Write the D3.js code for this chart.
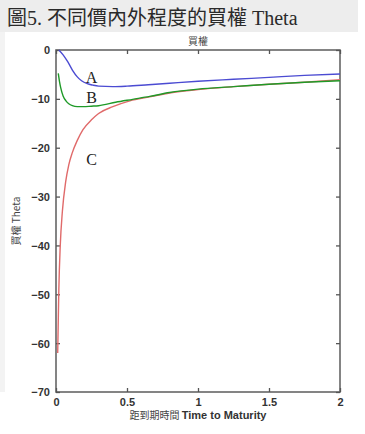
<!DOCTYPE html>
<html>
<head>
<meta charset="utf-8">
<script src="https://cdn.jsdelivr.net/npm/d3@7"></script>
<style>
  body { margin: 0; background: #fff; }
  svg { display: block; }
</style>
</head>
<body>
<div id="chart"></div>
<script>
// values: time to maturity (years) and call theta
const seriesA_t = [0.02, 0.05, 0.08, 0.1, 0.12, 0.15, 0.18, 0.22, 0.26, 0.3, 0.4, 0.5, 0.65, 0.8, 1.0, 1.25, 1.5, 1.75, 2.0];
const seriesA_v = [0, -1.0, -2.3, -3.3, -4.3, -5.5, -6.3, -6.9, -7.2, -7.4, -7.5, -7.4, -7.1, -6.8, -6.4, -6.0, -5.6, -5.2, -4.9];

const seriesB_t = [0.016, 0.025, 0.033, 0.05, 0.07, 0.09, 0.115, 0.15, 0.19, 0.25, 0.3, 0.42, 0.54, 0.66, 0.8, 1.0, 1.25, 1.5, 1.75, 2.0];
const seriesB_v = [-4.8, -6.5, -7.7, -9.4, -10.4, -11.0, -11.4, -11.6, -11.6, -11.5, -11.4, -10.7, -10.1, -9.5, -8.7, -8.0, -7.5, -7.0, -6.6, -6.3];

const seriesC_t = [0.012, 0.015, 0.02, 0.03, 0.045, 0.068, 0.09, 0.115, 0.15, 0.19, 0.25, 0.3, 0.4, 0.52, 0.66, 0.8, 1.0, 1.25, 1.5, 1.75, 2.0];
const seriesC_v = [-62, -57, -49, -40, -33, -27, -23.5, -21, -18.5, -16.3, -14.3, -13, -11.6, -10.4, -9.6, -8.8, -8.1, -7.5, -7.0, -6.6, -6.1];

const seriesNames = ["A", "B", "C"];
const seriesColors = ["#4b4bd2", "#1f9a28", "#e06a6a"];
const xTicks = [0, 0.5, 1, 1.5, 2];
const xTickLabels = ["0", "0.5", "1", "1.5", "2"];
const yTicks = [0, -10, -20, -30, -40, -50, -60, -70];

const titleText = "圖5. 不同價內外程度的買權 Theta";
const plotTitle = "買權";
const yLabel = "買權 Theta";
const xLabelZh = "距到期時間";
const xLabelEn = "Time to Maturity";

const W = 365, H = 434;
const margin = {top: 50, right: 25, bottom: 42, left: 56};

const svg = d3.select("#chart").append("svg")
  .attr("width", W).attr("height", H);

// gray header band + faint left strip
svg.append("rect").attr("x", 0).attr("y", 0).attr("width", 358).attr("height", 32).attr("fill", "#ededed");
svg.append("rect").attr("x", 0).attr("y", 32).attr("width", 5).attr("height", 360).attr("fill", "#f3f3f3");

svg.append("text")
  .attr("x", 7).attr("y", 25)
  .attr("font-family", "'Liberation Serif', 'Noto Sans CJK TC', serif")
  .attr("font-size", 20)
  .attr("fill", "#2a2a2a")
  .text(titleText);

const x = d3.scaleLinear().domain([0, 2]).range([margin.left, W - margin.right]);
const y = d3.scaleLinear().domain([-70, 0]).range([H - margin.bottom, margin.top]);

const g = svg.append("g");

// frame
g.append("rect")
  .attr("x", x(0)).attr("y", y(0))
  .attr("width", x(2) - x(0)).attr("height", y(-70) - y(0))
  .attr("fill", "#fff").attr("stroke", "#666").attr("stroke-width", 1.6);

// axes with inward ticks (matlab style)
const tickFont = "'Liberation Sans', Arial, sans-serif";
const xAxis = g.append("g").attr("transform", `translate(0,${y(-70)})`)
  .call(d3.axisBottom(x).tickValues(xTicks).tickSize(-4).tickPadding(6)
    .tickFormat((d, i) => xTickLabels[i]));
const yAxis = g.append("g").attr("transform", `translate(${x(0)},0)`)
  .call(d3.axisLeft(y).tickValues(yTicks).tickSize(-4).tickPadding(6));
const xTop = g.append("g").attr("transform", `translate(0,${y(0)})`)
  .call(d3.axisTop(x).tickValues(xTicks).tickSize(-4).tickFormat(""));
const yRight = g.append("g").attr("transform", `translate(${x(2)},0)`)
  .call(d3.axisRight(y).tickValues(yTicks).tickSize(-4).tickFormat(""));

[xAxis, yAxis, xTop, yRight].forEach(a => {
  a.select(".domain").remove();
  a.selectAll(".tick line").attr("stroke", "#555").attr("stroke-width", 1.3);
  a.selectAll("text")
    .attr("font-family", tickFont).attr("font-weight", "bold")
    .attr("font-size", 11).attr("fill", "#333");
});
yAxis.selectAll("text").attr("dy", "0.35em");

// curves
const series = [
  seriesA_t.map((t, i) => [t, seriesA_v[i]]),
  seriesB_t.map((t, i) => [t, seriesB_v[i]]),
  seriesC_t.map((t, i) => [t, seriesC_v[i]])
];
const line = d3.line().x(d => x(d[0])).y(d => y(d[1])).curve(d3.curveMonotoneX);

// draw C first so red sits under green where they merge
[2, 1, 0].forEach(i => {
  g.append("path")
    .datum(series[i])
    .attr("d", line)
    .attr("fill", "none")
    .attr("stroke", seriesColors[i])
    .attr("stroke-width", 1.4);
});

// curve letters
const letterPos = [[0.25, -6.8], [0.25, -10.9], [0.25, -23.6]];
seriesNames.forEach((n, i) => {
  g.append("text")
    .attr("x", x(letterPos[i][0])).attr("y", y(letterPos[i][1]))
    .attr("text-anchor", "middle")
    .attr("font-family", "'Liberation Serif', 'DejaVu Serif', serif")
    .attr("font-size", 16)
    .attr("fill", "#222")
    .text(n);
});

// titles
svg.append("text")
  .attr("x", (x(0) + x(2)) / 2).attr("y", 45)
  .attr("text-anchor", "middle")
  .attr("font-family", "'Noto Sans CJK TC', sans-serif")
  .attr("font-size", 10).attr("fill", "#444")
  .text(plotTitle);

svg.append("text")
  .attr("transform", `translate(20,${(y(0) + y(-70)) / 2}) rotate(-90)`)
  .attr("text-anchor", "middle")
  .attr("font-family", "'Noto Sans CJK TC', sans-serif")
  .attr("font-size", 10).attr("fill", "#444")
  .text(yLabel);

const xl = svg.append("text")
  .attr("x", (x(0) + x(2)) / 2).attr("y", 419)
  .attr("text-anchor", "middle")
  .attr("fill", "#444");
xl.append("tspan")
  .attr("font-family", "'Noto Sans CJK TC', sans-serif")
  .attr("font-size", 10)
  .text(xLabelZh + "  ");
xl.append("tspan")
  .attr("font-family", tickFont).attr("font-weight", "bold")
  .attr("font-size", 11).attr("fill", "#333")
  .text(xLabelEn);
</script>
</body>
</html>
